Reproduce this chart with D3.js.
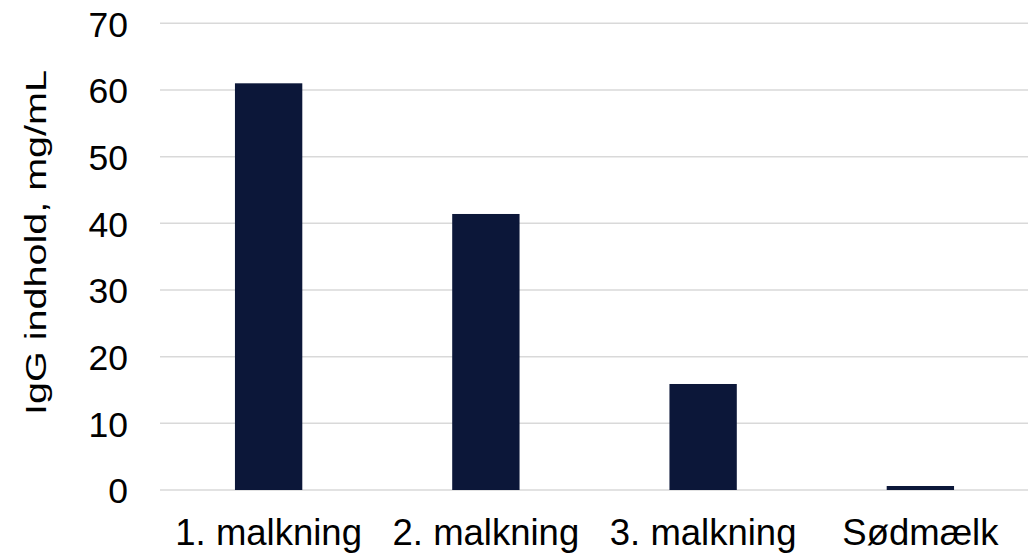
<!DOCTYPE html>
<html>
<head>
<meta charset="utf-8">
<script src="https://cdn.jsdelivr.net/npm/d3@7"></script>
<style>
  html, body { margin: 0; padding: 0; background: #ffffff; }
  svg { display: block; }
</style>
</head>
<body>
<svg id="chart" width="1028" height="560"></svg>
<script>
// IgG content per milking (mg/mL)
const categories = ["1. malkning", "2. malkning", "3. malkning", "Sødmælk"];
const values = [61.0, 41.4, 15.9, 0.6];
const yTicks = [0, 10, 20, 30, 40, 50, 60, 70];
const yLabel = "IgG indhold, mg/mL";

const width = 1028, height = 560;
const margin = { top: 23.3, right: 0, bottom: 70, left: 160 };

const svg = d3.select("#chart");

const x = d3.scaleBand()
  .domain(categories)
  .range([margin.left, width - margin.right + 1])
  .paddingInner(0.69)
  .paddingOuter(0.345);

const y = d3.scaleLinear()
  .domain([0, 70])
  .range([490, 23.3]);

// horizontal gridlines
svg.append("g")
  .selectAll("line")
  .data(yTicks)
  .join("line")
  .attr("x1", margin.left)
  .attr("x2", width)
  .attr("y1", d => y(d))
  .attr("y2", d => y(d))
  .attr("stroke", "#d9d9d9")
  .attr("stroke-width", 1.5);

// bars
svg.append("g")
  .selectAll("rect")
  .data(values)
  .join("rect")
  .attr("x", (d, i) => x(categories[i]))
  .attr("width", x.bandwidth())
  .attr("y", d => y(d))
  .attr("height", d => y(0) - y(d))
  .attr("fill", "#0c1739");

// y axis tick labels
const yAxis = d3.axisLeft(y).tickValues(yTicks).tickSize(0).tickPadding(32);
const gy = svg.append("g")
  .attr("transform", `translate(${margin.left},0)`)
  .call(yAxis);
gy.select(".domain").remove();
gy.selectAll("text")
  .attr("font-family", "'Liberation Sans', Arial, sans-serif")
  .attr("font-size", 35.5)
  .attr("fill", "#000000")
  .attr("dy", "0.36em");

// x axis category labels
const xAxis = d3.axisBottom(x).tickSize(0).tickPadding(0);
const gx = svg.append("g")
  .attr("transform", `translate(0,${y(0)})`)
  .call(xAxis);
gx.select(".domain").remove();
gx.selectAll("text")
  .attr("font-family", "'Liberation Sans', Arial, sans-serif")
  .attr("font-size", 36.5)
  .attr("fill", "#000000")
  .attr("dy", null)
  .attr("y", 55);

// y axis title
svg.append("text")
  .attr("transform", "translate(46,242.5) rotate(-90)")
  .attr("text-anchor", "middle")
  .attr("font-family", "'Liberation Sans', Arial, sans-serif")
  .attr("font-size", 30)
  .attr("fill", "#000000")
  .attr("textLength", 345)
  .attr("lengthAdjust", "spacingAndGlyphs")
  .text(yLabel);
</script>
</body>
</html>
